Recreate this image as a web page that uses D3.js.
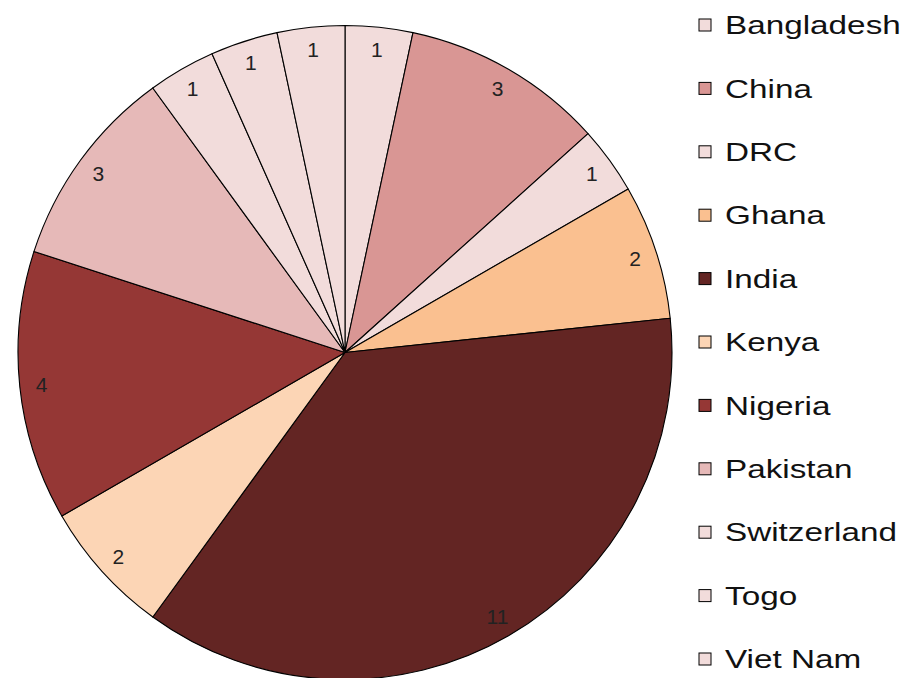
<!DOCTYPE html>
<html><head><meta charset="utf-8">
<script src="https://cdn.jsdelivr.net/npm/d3@7"></script>
<style>html,body{margin:0;padding:0;background:#fff;}svg{display:block;}</style>
</head><body>
<svg id="chart" width="907" height="678"></svg>
<script>
const countries = ["Bangladesh","China","DRC","Ghana","India","Kenya","Nigeria","Pakistan","Switzerland","Togo","Viet Nam"];
const counts = [1,3,1,2,11,2,4,3,1,1,1];
const colors = ["#f2dcdb","#d99694","#f2dcdb","#fac090","#632523","#fcd5b5","#953735","#e6b9b8","#f2dcdb","#f2dcdb","#f2dcdb"];

const svg = d3.select("#chart");
const cx = 345, cy = 352.5, R = 327;
const data = countries.map((c,i)=>({name:c, value:counts[i], color:colors[i]}));
const pie = d3.pie().value(d=>d.value).sort(null);
const arcs = pie(data);
const arc = d3.arc().innerRadius(0).outerRadius(R);
const labelArc = d3.arc().innerRadius(305).outerRadius(305);

const g = svg.append("g").attr("transform",`translate(${cx},${cy})`);
g.selectAll("path").data(arcs).join("path")
  .attr("d",arc).attr("fill",d=>d.data.color)
  .attr("stroke","#000").attr("stroke-width",1.1).attr("stroke-linejoin","round");
g.selectAll("text").data(arcs).join("text")
  .attr("transform",d=>`translate(${labelArc.centroid(d)})`)
  .attr("text-anchor","middle").attr("dominant-baseline","central")
  .attr("font-family","Liberation Sans, Arial, sans-serif").attr("font-size",21)
  .attr("fill","#222")
  .text(d=>d.data.value);

const y = d3.scalePoint().domain(countries).range([25,659]);
const lg = svg.append("g");
const items = lg.selectAll("g").data(data).join("g")
  .attr("transform",d=>`translate(0,${y(d.name)})`);
items.append("rect").attr("x",699).attr("y",-6).attr("width",12).attr("height",12)
  .attr("fill",d=>d.color).attr("stroke","#000").attr("stroke-width",1);
items.append("text").attr("transform","translate(725,0) scale(1.28,1)")
  .attr("dominant-baseline","central")
  .attr("font-family","Liberation Sans, Arial, sans-serif").attr("font-size",26)
  .attr("fill","#111").text(d=>d.name);
</script>
</body></html>
